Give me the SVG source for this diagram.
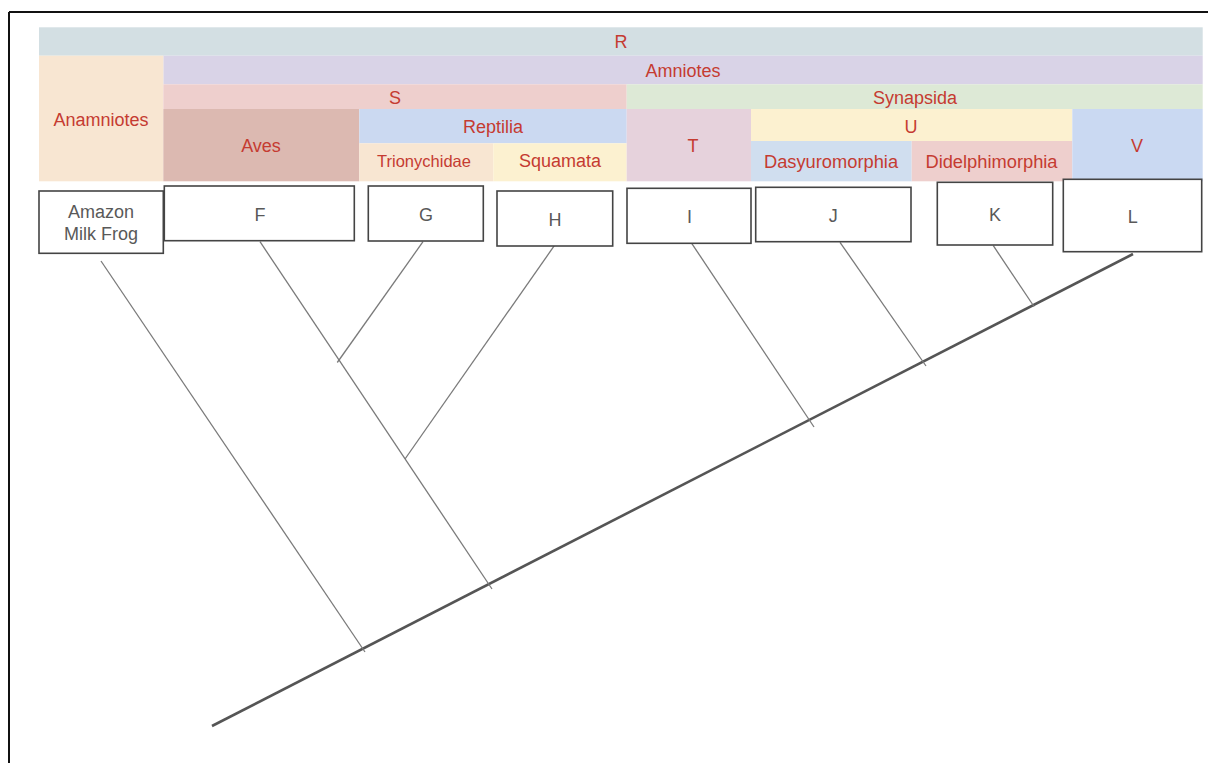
<svg xmlns="http://www.w3.org/2000/svg" width="1208" height="763" viewBox="0 0 1208 763">
<style>
.h{font-family:"Liberation Sans",Arial,sans-serif;font-size:18px;fill:#c53b31;text-anchor:middle}
.hs{font-size:18.3px}
.hx{font-size:16.5px}
.bx rect{fill:#fff;stroke:#444;stroke-width:1.6}
.bx text{font-family:"Liberation Sans",Arial,sans-serif;font-size:18px;fill:#595959;text-anchor:middle}
.br{stroke:#7a7a7a;stroke-width:1.3;fill:none}
.tr{stroke:#555;stroke-width:2.6;fill:none}
</style>
<rect x="0" y="0" width="1208" height="763" fill="#fff"/>
<g id="frame" fill="none" stroke="#111" stroke-width="2">
<line x1="9" y1="12" x2="1208" y2="12"/>
<line x1="9" y1="12" x2="9" y2="763"/>
</g>
<g id="header">
<g id="R"><rect x="39" y="27.3" width="1163.7" height="28.4" fill="#d3dfe3"/><text class="h" x="621" y="48">R</text></g>
<g id="Amniotes"><rect x="163.3" y="55.7" width="1039.4" height="28.6" fill="#d9d3e7"/><text class="h" x="683" y="76.5">Amniotes</text></g>
<g id="Anamniotes"><rect x="39" y="55.7" width="124.3" height="125.6" fill="#f8e6d2"/><text class="h" x="101" y="125.7">Anamniotes</text></g>
<g id="S"><rect x="163.3" y="84.3" width="463.4" height="24.7" fill="#eecfcd"/><text class="h" x="395" y="104">S</text></g>
<g id="Synapsida"><rect x="626.7" y="84.3" width="576" height="24.7" fill="#dde9d6"/><text class="h" x="915" y="104">Synapsida</text></g>
<g id="Aves"><rect x="163.3" y="109" width="196" height="72.3" fill="#dcb9b1"/><text class="h" x="261" y="151.7">Aves</text></g>
<g id="Reptilia"><rect x="359.3" y="109" width="267.4" height="34.3" fill="#cbd9f1"/><text class="h" x="493" y="133">Reptilia</text></g>
<g id="Trionychidae"><rect x="359.3" y="143.3" width="134" height="38" fill="#f8e6d2"/><text class="h hx" x="424" y="166.7">Trionychidae</text></g>
<g id="Squamata"><rect x="493.3" y="143.3" width="133.4" height="38" fill="#fcf1d0"/><text class="h" x="560" y="167">Squamata</text></g>
<g id="T"><rect x="626.7" y="109" width="124.3" height="72.3" fill="#e6d2dc"/><text class="h" x="693" y="151.5">T</text></g>
<g id="U"><rect x="751" y="109" width="321.3" height="32" fill="#fcf1d0"/><text class="h" x="911" y="132.5">U</text></g>
<g id="Dasyuromorphia"><rect x="751" y="141" width="160.7" height="40.3" fill="#d0deef"/><text class="h hs" x="831" y="167.5">Dasyuromorphia</text></g>
<g id="Didelphimorphia"><rect x="911.7" y="141" width="160.6" height="40.3" fill="#eecfcd"/><text class="h hs" x="991.5" y="167.5">Didelphimorphia</text></g>
<g id="V"><rect x="1072.3" y="109" width="130.4" height="72.3" fill="#cad9f2"/><text class="h" x="1137" y="151.5">V</text></g>
</g>
<g id="connectors">
<line class="tr" x1="212" y1="726" x2="1133" y2="254"/>
<line class="br" x1="101" y1="261" x2="365" y2="652"/>
<line class="br" x1="260" y1="241.7" x2="492" y2="589"/>
<line class="br" x1="423" y1="241.7" x2="337.3" y2="362.5"/>
<line class="br" x1="554.3" y1="245.7" x2="405" y2="459"/>
<line class="br" x1="691.7" y1="243.3" x2="814" y2="427"/>
<line class="br" x1="840" y1="242.3" x2="926" y2="366"/>
<line class="br" x1="993.3" y1="245.7" x2="1034" y2="306.5"/>
</g>
<g id="frog" class="bx"><rect x="39" y="191" width="124.3" height="62.3"/><text x="101" y="218">Amazon</text><text x="101" y="240">Milk Frog</text></g>
<g id="F" class="bx"><rect x="164.3" y="186" width="190" height="54.7"/><text x="260" y="220.7">F</text></g>
<g id="G" class="bx"><rect x="368.3" y="186" width="115" height="55"/><text x="426" y="221">G</text></g>
<g id="H" class="bx"><rect x="497" y="191" width="115.7" height="55"/><text x="555" y="225.7">H</text></g>
<g id="I" class="bx"><rect x="627" y="188.3" width="124" height="55"/><text x="689.5" y="222.7">I</text></g>
<g id="J" class="bx"><rect x="755.7" y="187.3" width="155.3" height="54.4"/><text x="833.3" y="221.7">J</text></g>
<g id="K" class="bx"><rect x="937.3" y="182.3" width="115.4" height="62.7"/><text x="995" y="221">K</text></g>
<g id="L" class="bx"><rect x="1063.3" y="179.3" width="138.4" height="72.4"/><text x="1132.7" y="223.3">L</text></g>
</svg>
